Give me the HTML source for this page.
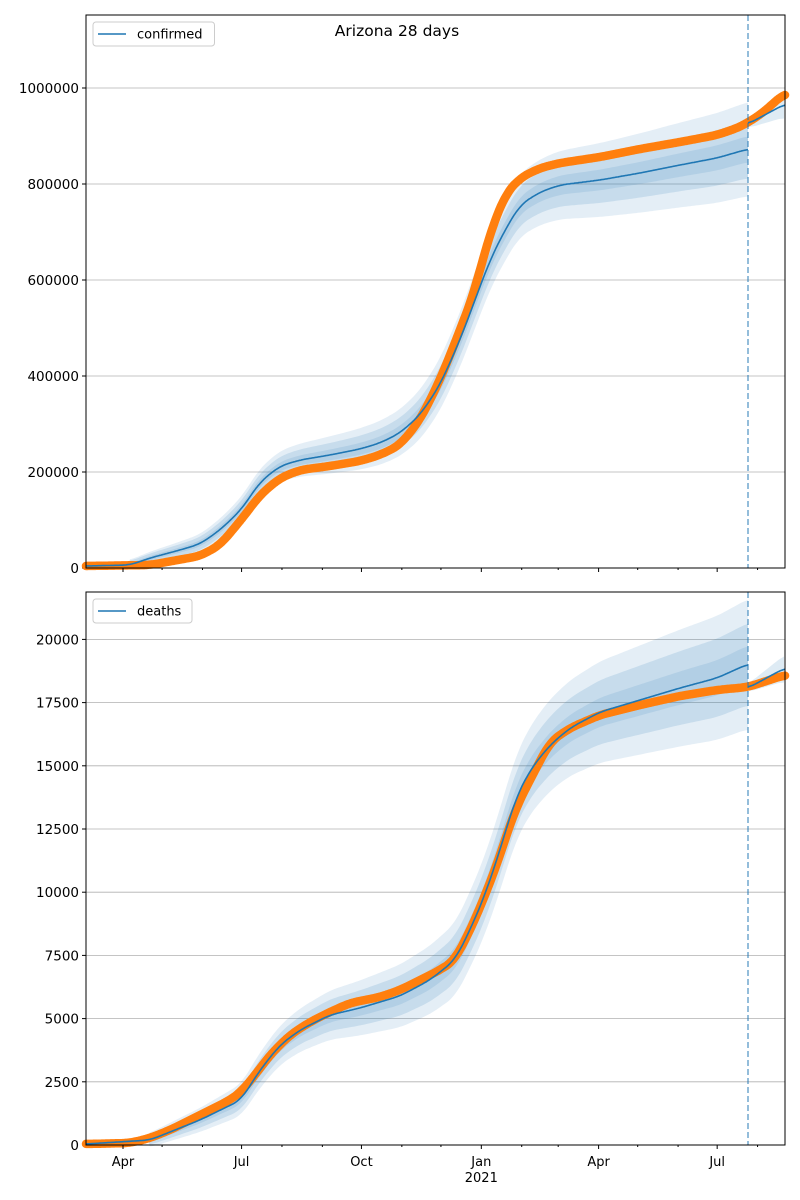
<!DOCTYPE html>
<html><head><meta charset="utf-8"><style>
body{margin:0;background:#fff}
svg{display:block;font-family:"DejaVu Sans","Liberation Sans",sans-serif}
</style></head><body>
<svg id="s" width="800" height="1200" xmlns="http://www.w3.org/2000/svg"></svg>
<script>
const S=document.getElementById('s');
let h='';
const L=86,R=785;
const d0=Date.UTC(2020,3,1);
function mx(y,m){return 123+(Date.UTC(y,m,1)-d0)/864e5*1.303;}
const months=[];
for(let y=2020;y<=2021;y++)for(let m=0;m<12;m++){const x=mx(y,m);if(x>=L&&x<=R)months.push([x,y,m]);}
function interp0(pts,x){for(let i=0;i<pts.length-1;i++){if(x>=pts[i][0]&&x<=pts[i+1][0]){const t=(x-pts[i][0])/(pts[i+1][0]-pts[i][0]);return pts[i][1]+t*(pts[i+1][1]-pts[i][1]);}}return x<pts[0][0]?pts[0][1]:pts[pts.length-1][1];}
function interp(pts,x){let s=0,n=0;for(let d=-8;d<=8;d+=2){const xx=Math.min(Math.max(x+d,pts[0][0]),pts[pts.length-1][0]);s+=interp0(pts,xx);n++;}return s/n;}
function line(pts,x0,x1){let s='';for(let x=x0;x<=x1;x+=1)s+=(s?'L':'M')+x+','+interp(pts,x).toFixed(1);return s;}
function band(pts,x0,x1,hw){let a=[],b=[];for(let x=x0;x<=x1;x+=2){const y=interp(pts,x),w=hw(x);a.push(x+','+(y-w).toFixed(1));b.unshift(x+','+(y+w).toFixed(1));}return 'M'+a.join('L')+'L'+b.join('L')+'Z';}
function panel(top,bot,ticks,tickY,orange,blue,blue2,hwL,hwD,legend){
 ticks.forEach((t,i)=>{const y=tickY(t);if(i>0)h+=`<line x1="${L}" x2="${R}" y1="${y}" y2="${y}" stroke="#b0b0b0" stroke-width="0.8"/>`;h+=`<line x1="${L-4}" x2="${L}" y1="${y}" y2="${y}" stroke="#000"/><text x="${L-7}" y="${y+5}" font-size="13.5" text-anchor="end">${t}</text>`;});
 const bx1=748;
 h+=`<path d="${band(blue,L,bx1,hwL)}" fill="#1f77b4" fill-opacity="0.12"/>`;
 h+=`<path d="${band(blue,L,bx1,hwD)}" fill="#1f77b4" fill-opacity="0.15"/>`;
 h+=`<path d="${band(blue,L,bx1,x=>hwD(x)*0.45)}" fill="#1f77b4" fill-opacity="0.12"/>`;
 h+=`<path d="${band(blue2,bx1,R,x=>4+(x-bx1)*0.25)}" fill="#1f77b4" fill-opacity="0.15"/>`;
 h+=`<path d="${line(orange,L,R)}" fill="none" stroke="#ff7f0e" stroke-width="8.5" stroke-linecap="round" stroke-linejoin="round"/>`;
 h+=`<path d="${line(blue,L,bx1)}" fill="none" stroke="#1f77b4" stroke-width="1.6"/>`;
 h+=`<path d="${line(blue2,bx1,R)}" fill="none" stroke="#1f77b4" stroke-width="1.6"/>`;
 h+=`<line x1="748" x2="748" y1="${top}" y2="${bot}" stroke="#1f77b4" stroke-opacity="0.6" stroke-width="1.6" stroke-dasharray="6,3"/>`;
 h+=`<rect x="${L}" y="${top}" width="${R-L}" height="${bot-top}" fill="none" stroke="#000" stroke-width="1"/>`;
 months.forEach(([x,y,m])=>{const maj=(m%3==0);h+=`<line x1="${x}" x2="${x}" y1="${bot}" y2="${bot+(maj?4:2)}" stroke="#000"/>`;});
 h+=`<rect x="${L+7}" y="${top+7}" width="${legend.length*7.5+54}" height="24" rx="3" fill="#fff" fill-opacity="0.8" stroke="#ccc"/>`;
 h+=`<line x1="${L+12}" x2="${L+40}" y1="${top+19}" y2="${top+19}" stroke="#1f77b4" stroke-width="1.6"/>`;
 h+=`<text x="${L+51}" y="${top+23.5}" font-size="13">${legend}</text>`;
}
panel(15,568,[0,200000,400000,600000,800000,1000000],t=>568-t/200000*96,
 [[86,566],[150,565],[200,556],[220,545],[241,520],[260,495],[280,478],[300,470],[330,466],[360,461],[380,455],[400,445],[420,420],[440,380],[460,330],[475,290],[485,250],[495,220],[505,195],[520,178],[540,168],[560,163],[580,160],[600,157],[640,149],[680,142],[717,135],[740,127],[760,115],[785,93]],
 [[86,566],[130,565],[150,558],[180,550],[200,544],[220,530],[241,510],[260,482],[280,466],[300,460],[330,455],[360,449],[380,443],[400,433],[420,415],[440,385],[460,340],[475,300],[490,260],[505,230],[520,205],[540,192],[560,185],[600,180],[640,173],[680,165],[717,158],[748,149]],
 [[748,124],[785,104]],
 x=>(2+45*(x-86)/662)*(x<130?0.2:1),
 x=>(2+27*(x-86)/662)*(x<130?0.2:1),'confirmed');
panel(592,1145,[0,2500,5000,7500,10000,12500,15000,17500,20000],t=>1145-t/2500*63.2,
 [[86,1144],[130,1143],[150,1138],[170,1130],[190,1120],[210,1110],[230,1100],[241,1092],[255,1075],[270,1055],[290,1035],[310,1022],[330,1012],[350,1003],[380,997],[400,990],[420,980],[440,970],[455,960],[465,940],[475,920],[485,895],[495,870],[505,840],[515,810],[530,780],[550,742],[570,728],[600,715],[640,705],[680,696],[717,690],[748,687],[785,675]],
 [[86,1144],[150,1140],[200,1120],[241,1100],[260,1070],[280,1045],[300,1030],[330,1015],[360,1008],[400,996],[430,980],[455,960],[470,930],[485,895],[500,850],[515,800],[530,770],[550,745],[570,728],[600,712],[640,700],[680,688],[717,678],[748,664]],
 [[748,688],[785,668]],
 x=>(1+64*(x-86)/662)*(x<150?0.3:1),
 x=>(1+40*(x-86)/662)*(x<150?0.3:1),'deaths');
months.forEach(([x,y,m])=>{if(m%3==0){const n=['Jan','','','Apr','','','Jul','','','Oct'][m];h+=`<text x="${x}" y="1166" font-size="13" text-anchor="middle">${n}</text>`;if(m==0)h+=`<text x="${x}" y="1182" font-size="13" text-anchor="middle">${y}</text>`;}});
h+=`<text x="397" y="36" font-size="15.5" text-anchor="middle">Arizona 28 days</text>`;
S.innerHTML=h;
</script>
</body></html>
